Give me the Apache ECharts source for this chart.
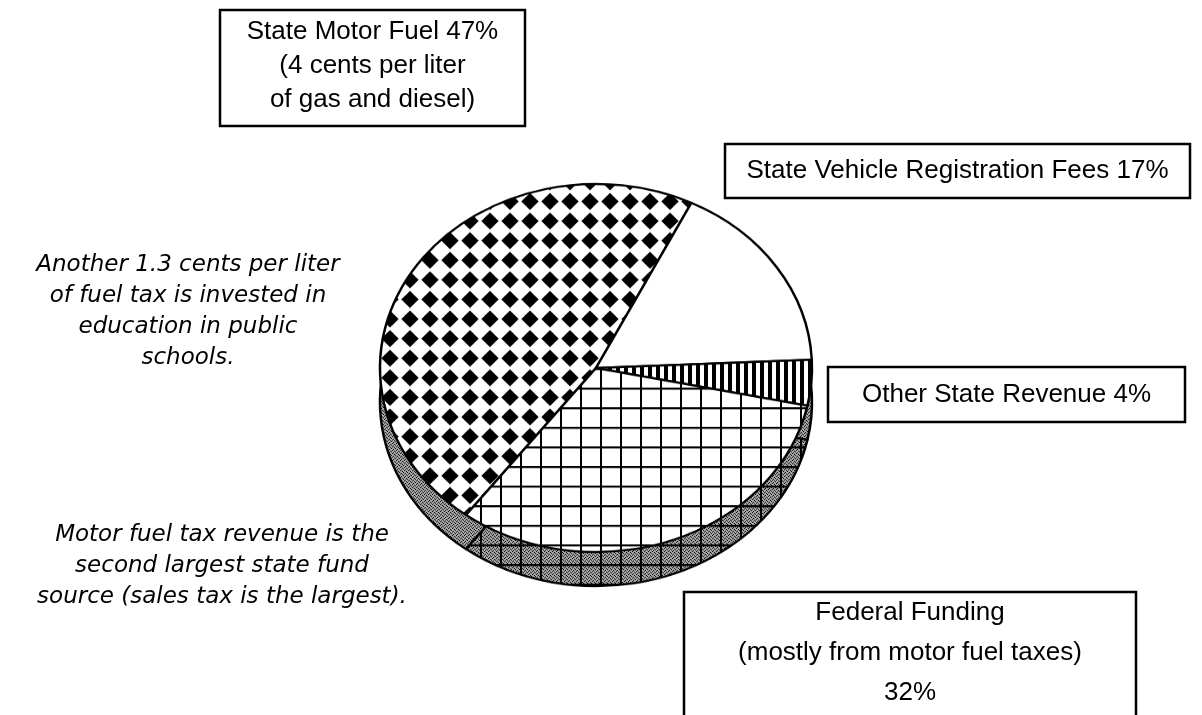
<!DOCTYPE html>
<html>
<head>
<meta charset="utf-8">
<script src="https://cdn.jsdelivr.net/npm/echarts@6/dist/echarts.min.js"></script>
<style>
  html, body { margin: 0; padding: 0; background: #fff; }
  #pie { position: absolute; left: 0; top: 0; width: 1202px; height: 715px;
         transform: scaleY(0.852); transform-origin: 596px 368px; }
  #notes { position: absolute; left: 0; top: 0; width: 1202px; height: 715px; }
</style>
</head>
<body>
<div id="pie"></div>
<div id="notes"></div>
<script>
// data
var names = ['State Motor Fuel', 'State Vehicle Registration Fees', 'Other State Revenue', 'Federal Funding'];
var shares = [47, 17, 4, 32];
var motorNote = ['(4 cents per liter', 'of gas and diesel)'];
var federalNote = ['(mostly from motor fuel taxes)'];
var noteTop = ['Another 1.3 cents per liter', 'of fuel tax is invested in', 'education in public', 'schools.'];
var noteBottom = ['Motor fuel tax revenue is the', 'second largest state fund', 'source (sales tax is the largest).'];

// pattern tiles (drawn before the div is squashed by 0.852 vertically)
function tile(w, h, bg, draw) {
  var c = document.createElement('canvas');
  c.width = w; c.height = h;
  var g = c.getContext('2d');
  g.fillStyle = bg;
  g.fillRect(0, 0, w, h);
  g.fillStyle = '#000';
  draw(g);
  return { image: c, repeat: 'repeat' };
}
function diamonds(g) {
  g.beginPath();
  g.moveTo(10, 1.5); g.lineTo(18.7, 11.5); g.lineTo(10, 21.5); g.lineTo(1.3, 11.5);
  g.closePath();
  g.fill();
}
function grid(g) {
  g.fillRect(0, 0, 2, 23);
  g.fillRect(0, 0, 20, 2.4);
}
function stripes(g) {
  g.fillRect(0, 0, 4, 8);
}
function dots(g) {
  g.fillRect(0, 0, 1, 1); g.fillRect(2, 1, 1, 1);
  g.fillRect(1, 3, 1, 1); g.fillRect(3, 2, 1, 1);
}
function dotsGrid(g) {
  for (var x = 0; x < 20; x += 4) {
    for (var y = 0; y < 23; y += 4) {
      g.fillRect(x, y, 1, 1); g.fillRect(x + 2, y + 1, 1, 1);
      g.fillRect(x + 1, y + 3, 1, 1); g.fillRect(x + 3, y + 2, 1, 1);
    }
  }
  grid(g);
}

var topFills = [
  tile(20, 23, '#fff', diamonds),
  '#fff',
  tile(8, 8, '#fff', stripes),
  tile(20, 23, '#fff', grid)
];
var sideFills = [
  tile(4, 4, '#a6a6a6', dots),
  tile(4, 4, '#a6a6a6', dots),
  tile(4, 4, '#a6a6a6', dots),
  tile(20, 23, '#a6a6a6', dotsGrid)
];

function pieData(fills) {
  return names.map(function (n, i) {
    return { name: n, value: shares[i], itemStyle: { color: fills[i] } };
  });
}

var pieChart = echarts.init(document.getElementById('pie'));
pieChart.setOption({
  animation: false,
  series: [
    {
      type: 'pie',
      center: [596, 408],
      radius: 216,
      startAngle: 233,
      label: { show: false },
      labelLine: { show: false },
      emphasis: { disabled: true },
      itemStyle: { borderColor: '#000', borderWidth: 2.5 },
      data: pieData(sideFills)
    },
    {
      type: 'pie',
      center: [596, 368],
      radius: 216,
      startAngle: 233,
      label: { show: false },
      labelLine: { show: false },
      emphasis: { disabled: true },
      itemStyle: { borderColor: '#000', borderWidth: 2.5 },
      data: pieData(topFills)
    }
  ]
});

// boxes and notes
var boxFont = { fontSize: 26, fontFamily: 'Liberation Sans, Arial, sans-serif', fill: '#000' };
var noteFont = { fontSize: 23, fontStyle: 'italic', fontFamily: 'DejaVu Sans, sans-serif', fill: '#000' };

function box(x, y, w, h, lines, lh, ty) {
  return [
    { type: 'rect', shape: { x: x, y: y, width: w, height: h },
      style: { fill: '#fff', stroke: '#000', lineWidth: 2.5 } },
    { type: 'text', x: x + w / 2, y: ty,
      style: Object.assign({ text: lines.join('\n'), align: 'center', verticalAlign: 'middle', lineHeight: lh }, boxFont) }
  ];
}
function note(cx, cy, lines) {
  return { type: 'text', x: cx, y: cy,
    style: Object.assign({ text: lines.join('\n'), align: 'center', verticalAlign: 'middle', lineHeight: 31 }, noteFont) };
}

var els = []
  .concat(box(220, 10, 305, 116, [names[0] + ' ' + shares[0] + '%'].concat(motorNote), 34, 66))
  .concat(box(725, 144, 465, 54, [names[1] + ' ' + shares[1] + '%'], 30, 171))
  .concat(box(828, 367, 357, 55, [names[2] + ' ' + shares[2] + '%'], 30, 395))
  .concat(box(684, 592, 452, 142, [names[3]].concat(federalNote, [shares[3] + '%']), 40, 653));
els.push(note(188, 312, noteTop));
els.push(note(222, 566, noteBottom));

var notesChart = echarts.init(document.getElementById('notes'));
notesChart.setOption({ animation: false, graphic: { elements: els } });
</script>
</body>
</html>
